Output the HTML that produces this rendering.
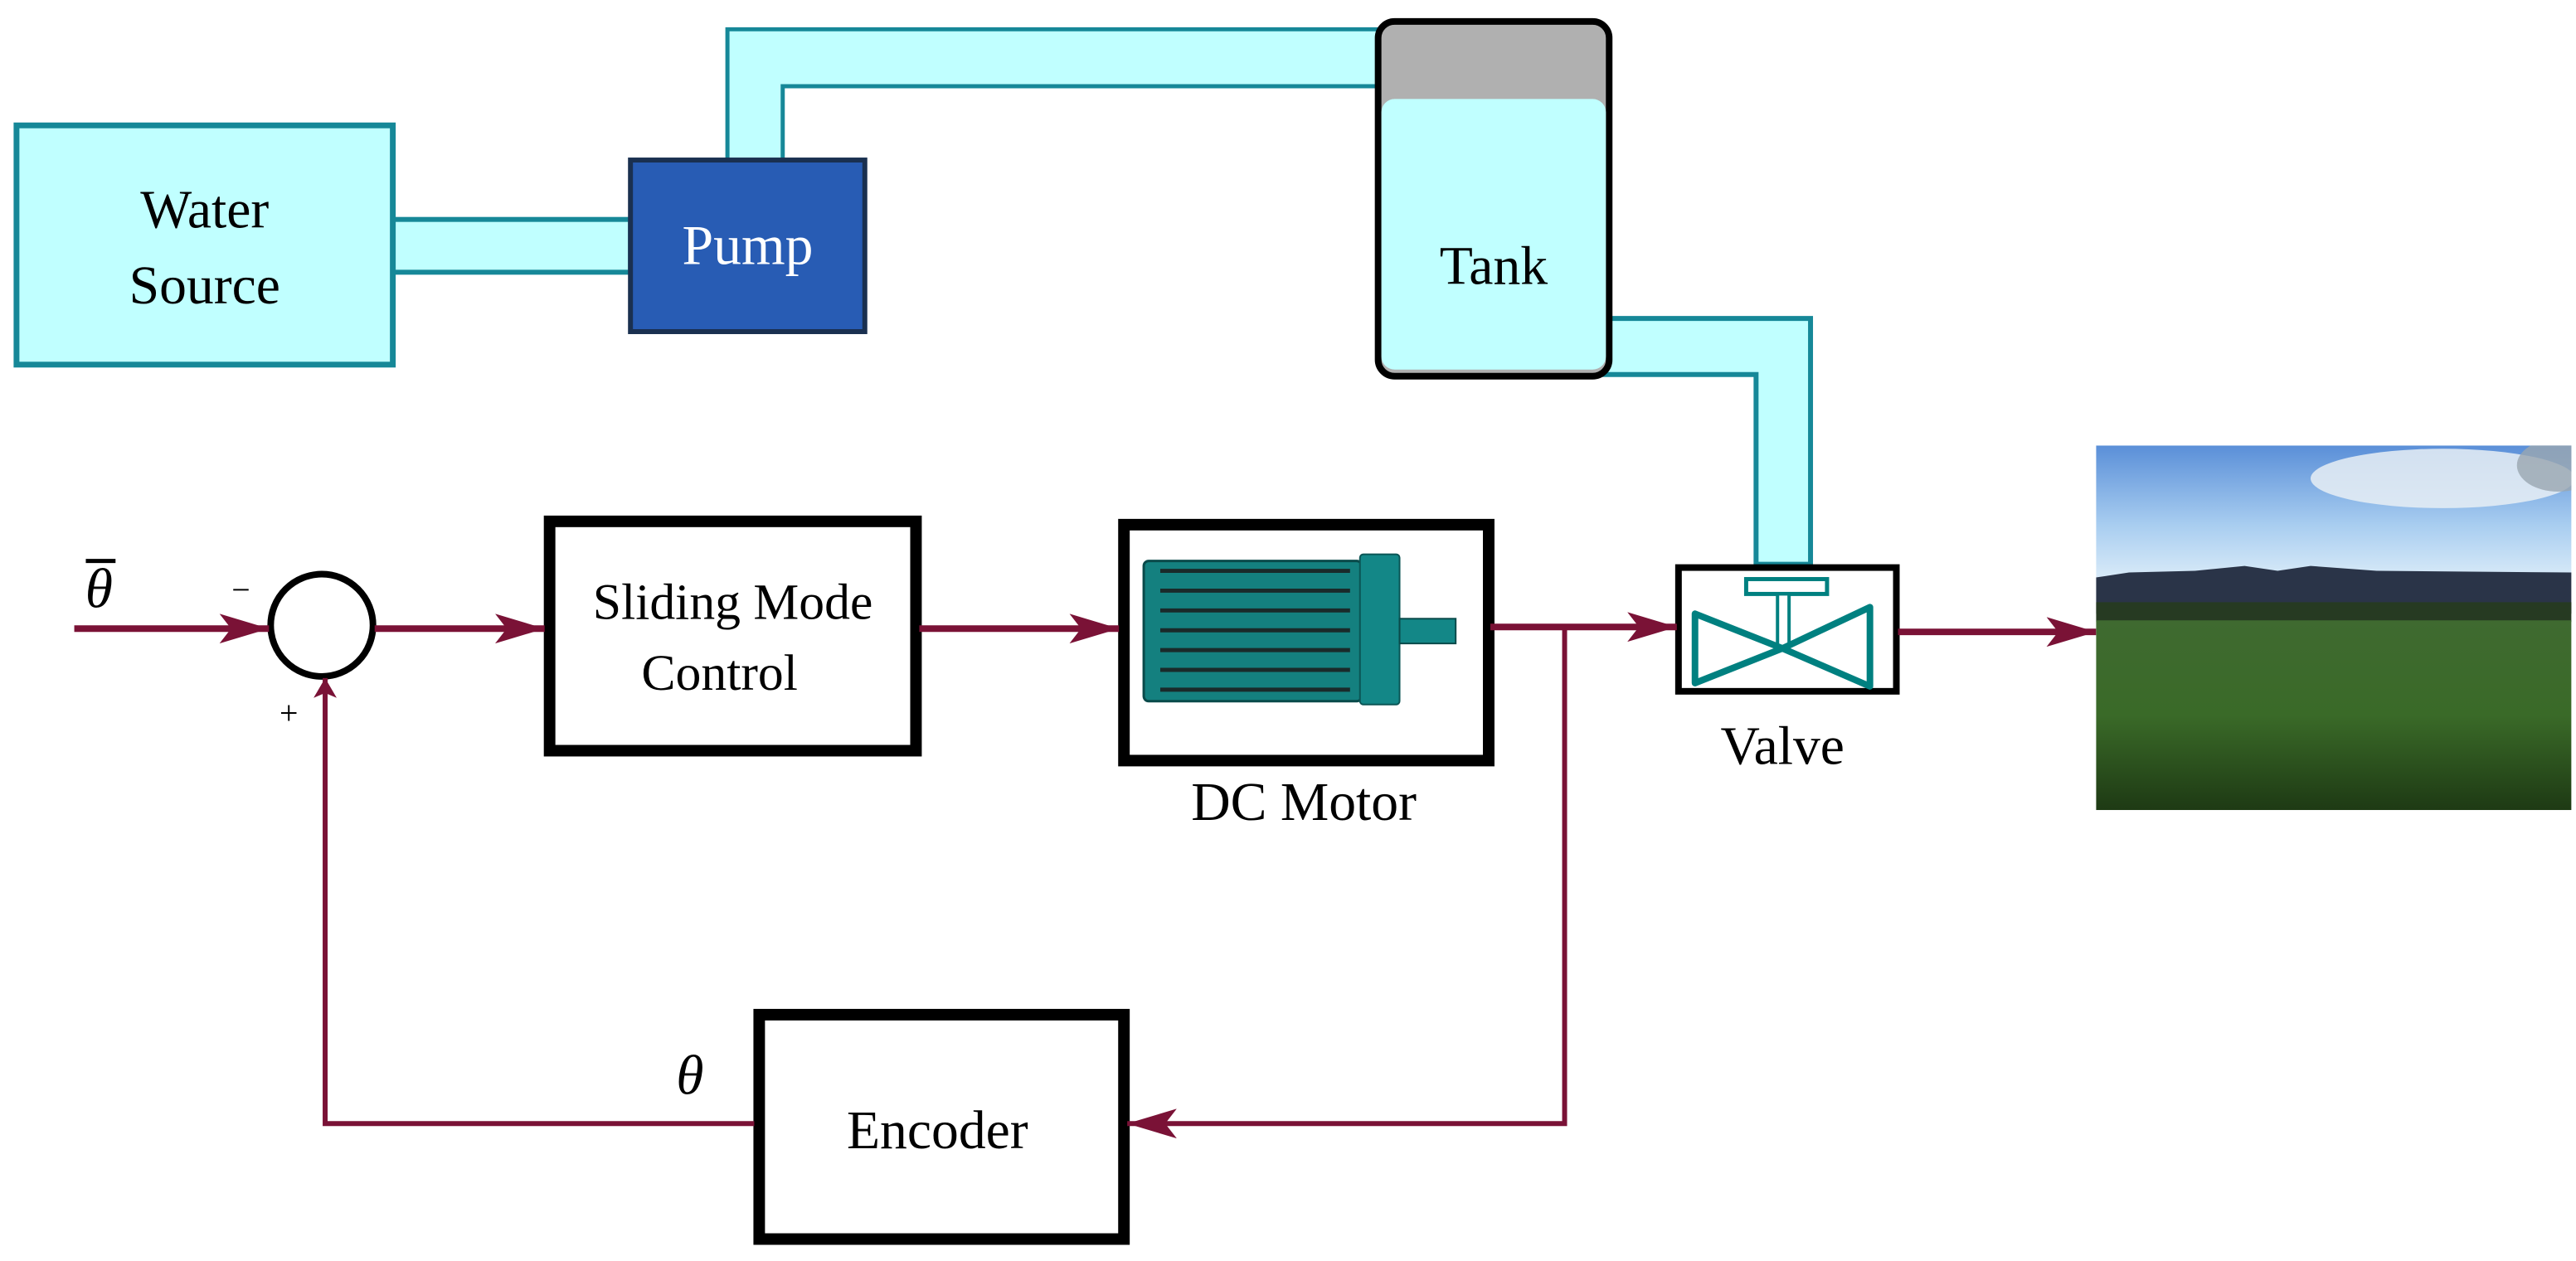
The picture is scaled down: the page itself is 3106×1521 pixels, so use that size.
<!DOCTYPE html>
<html><head><meta charset="utf-8"><style>
html,body{margin:0;padding:0;background:#fff;}
svg{display:block;}
text{font-family:"Liberation Serif",serif;}
</style></head><body>
<svg width="3106" height="1521" viewBox="0 0 1560.8 764.3" preserveAspectRatio="none" xmlns="http://www.w3.org/2000/svg">
<defs>
<linearGradient id="sky" x1="0" y1="0" x2="0" y2="1">
<stop offset="0" stop-color="#5a8fd8"/><stop offset="0.6" stop-color="#a8cdf0"/><stop offset="1" stop-color="#d8eaf8"/>
</linearGradient>
<linearGradient id="field" x1="0" y1="0" x2="0" y2="1">
<stop offset="0" stop-color="#3f6a30"/><stop offset="0.5" stop-color="#3a6a28"/><stop offset="1" stop-color="#1e3a14"/>
</linearGradient>
<clipPath id="pc"><rect x="1270" y="270" width="288" height="221"/></clipPath>
<marker id="ah" markerWidth="32" markerHeight="18" refX="30" refY="9" orient="auto" markerUnits="userSpaceOnUse">
<path d="M0,0 L30,9 L0,18 L7,9 Z" fill="#7a1236"/>
</marker>
<marker id="ah2" markerWidth="14" markerHeight="28" refX="12" refY="7" orient="auto" markerUnits="userSpaceOnUse">
<path d="M0,0 L12,7 L0,14 L3,7 Z" fill="#7a1236"/>
</marker>
</defs>
<!-- pipes -->
<rect x="238" y="133" width="144" height="32" fill="#c0ffff" stroke="#168898" stroke-width="3"/>
<path d="M441,97 L441,18 L836,18 M474,97 L474,52 L836,52" fill="none" stroke="#168898" stroke-width="3"/>
<path d="M442,19 L835,19 L835,51 L473,51 L473,97 L442,97 Z" fill="#c0ffff"/>
<path d="M972,193 L1097,193 L1097,342 L1064,342 L1064,227 L972,227 Z" fill="#c0ffff" stroke="#168898" stroke-width="3"/>
<!-- water source -->
<rect x="10" y="76" width="228" height="145" fill="#c0ffff" stroke="#168898" stroke-width="3.5"/>
<text x="124" y="138" font-size="33" text-anchor="middle">Water</text>
<text x="124" y="184" font-size="33" text-anchor="middle">Source</text>
<!-- pump -->
<rect x="382" y="97" width="142" height="104" fill="#285cb4" stroke="#1a3050" stroke-width="3"/>
<text x="453" y="160" font-size="34" text-anchor="middle" fill="#fff">Pump</text>
<!-- tank -->
<rect x="835" y="13" width="140" height="215" rx="10" fill="#b0b0b0" stroke="#000" stroke-width="4"/>
<rect x="837" y="60" width="136" height="164" rx="8" fill="#c0ffff"/>
<text x="905" y="172" font-size="33" text-anchor="middle">Tank</text>
<!-- SMC -->
<rect x="333" y="316" width="222" height="139" fill="#fff" stroke="#000" stroke-width="7"/>
<text x="444" y="375" font-size="31" text-anchor="middle">Sliding Mode</text>
<text x="436" y="418" font-size="31" text-anchor="middle">Control</text>
<!-- Motor -->
<rect x="681" y="318" width="221" height="143" fill="#fff" stroke="#000" stroke-width="7"/>
<rect x="693" y="340" width="132" height="85" rx="3" fill="#14807f" stroke="#0a4a4a" stroke-width="1.5"/>
<rect x="824" y="336" width="24" height="91" rx="2" fill="#138787" stroke="#0a5555" stroke-width="1"/>
<rect x="848" y="375" width="34" height="15" fill="#138787" stroke="#0a4a4a" stroke-width="1"/>
<g stroke="#1a2a2a" stroke-width="2.5">
<line x1="703" y1="346" x2="818" y2="346"/><line x1="703" y1="358" x2="818" y2="358"/>
<line x1="703" y1="370" x2="818" y2="370"/><line x1="703" y1="382" x2="818" y2="382"/>
<line x1="703" y1="394" x2="818" y2="394"/><line x1="703" y1="406" x2="818" y2="406"/>
<line x1="703" y1="418" x2="818" y2="418"/>
</g>
<text x="790" y="497" font-size="33" text-anchor="middle">DC Motor</text>
<!-- Valve -->
<rect x="1017" y="344" width="132" height="75" fill="#fff" stroke="#000" stroke-width="4"/>
<rect x="1058" y="351" width="49" height="9" fill="#fff" stroke="#008080" stroke-width="2.5"/>
<rect x="1077" y="360" width="7" height="33" fill="#fff" stroke="#008080" stroke-width="2"/>
<path d="M1027,372 L1027,414 L1080,393 Z M1133,368 L1133,416 L1080,393 Z" fill="none" stroke="#008080" stroke-width="4" stroke-linejoin="round"/>
<text x="1080" y="463" font-size="33" text-anchor="middle">Valve</text>
<!-- Encoder -->
<rect x="460" y="615" width="221" height="136" fill="#fff" stroke="#000" stroke-width="7"/>
<text x="568" y="696" font-size="33" text-anchor="middle">Encoder</text>
<!-- sum -->
<ellipse cx="195" cy="379" rx="31" ry="31" fill="#fff" stroke="#000" stroke-width="4"/>
<!-- connectors -->
<g stroke="#7a1236" stroke-width="4" fill="none">
<line x1="45" y1="381" x2="163" y2="381" marker-end="url(#ah)"/>
<line x1="227" y1="381" x2="330" y2="381" marker-end="url(#ah)"/>
<line x1="557" y1="381" x2="678" y2="381" marker-end="url(#ah)"/>
<line x1="903" y1="380" x2="1016" y2="380" marker-end="url(#ah)"/>
<line x1="1150" y1="383" x2="1270" y2="383" marker-end="url(#ah)"/>
</g>
<g stroke="#7a1236" stroke-width="3" fill="none">
<path d="M948,381 L948,681 L683,681" marker-end="url(#ah)"/>
<path d="M457,681 L197,681 L197,411" marker-end="url(#ah2)"/>
</g>
<!-- labels -->
<text x="60" y="368" font-size="34" font-style="italic" text-anchor="middle">θ</text>
<line x1="52" y1="340" x2="70" y2="340" stroke="#000" stroke-width="2.5"/>
<text x="146" y="364" font-size="20" text-anchor="middle">−</text>
<text x="175" y="439" font-size="20" text-anchor="middle">+</text>
<text x="418" y="663" font-size="34" font-style="italic" text-anchor="middle">θ</text>
<!-- photo -->
<g clip-path="url(#pc)">
<rect x="1270" y="270" width="288" height="80" fill="url(#sky)"/>
<ellipse cx="1480" cy="290" rx="80" ry="18" fill="#e8eef4" opacity="0.85"/>
<ellipse cx="1550" cy="282" rx="25" ry="16" fill="#9aa6b0" opacity="0.8"/>
<path d="M1270,350 L1290,347 L1330,346 L1360,343 L1380,346 L1400,343 L1440,346 L1558,347 L1558,372 L1270,372 Z" fill="#2a3448"/>
<rect x="1270" y="365" width="288" height="12" fill="#263a22"/>
<rect x="1270" y="376" width="288" height="115" fill="url(#field)"/>
</g>
</svg>
</body></html>
